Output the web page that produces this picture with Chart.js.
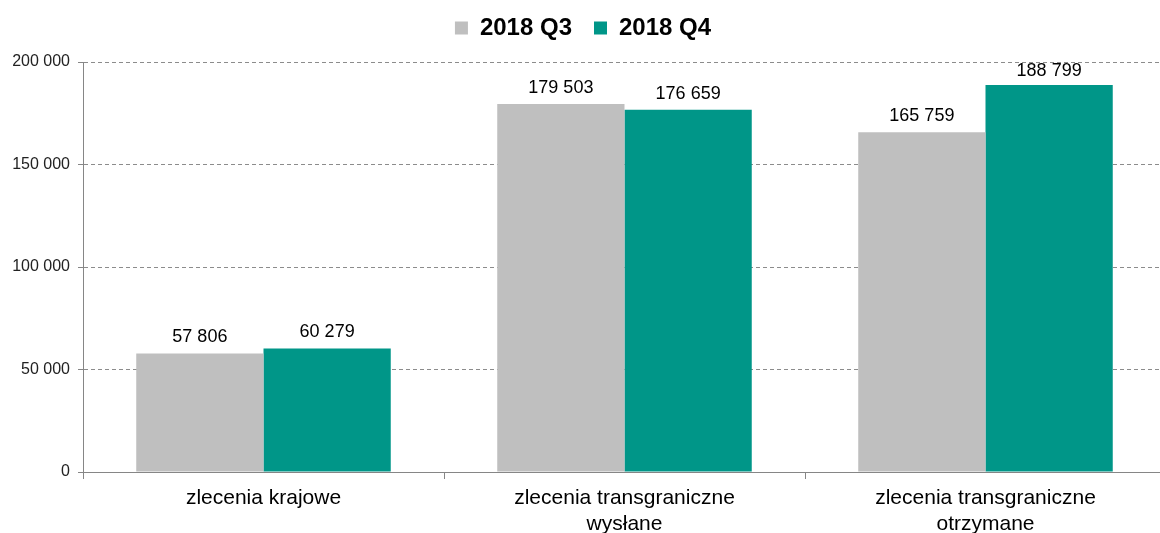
<!DOCTYPE html>
<html>
<head>
<meta charset="utf-8">
<script src="https://cdn.jsdelivr.net/npm/chart.js@4"></script>
<style>
  body { margin: 0; background: #fff; overflow: hidden; }
</style>
</head>
<body>
<canvas id="chart" width="1166" height="533"></canvas>
<script>
// categories and values
const categories = [
  ["zlecenia krajowe"],
  ["zlecenia transgraniczne", "wysłane"],
  ["zlecenia transgraniczne", "otrzymane"]
];
const seriesNames = ["2018 Q3", "2018 Q4"];
const q3Values = [57806, 179503, 165759];
const q4Values = [60279, 176659, 188799];
const yTicks = [0, 50000, 100000, 150000, 200000];

const colors = ["#BFBFBF", "#009688"];
const FONT = "'Liberation Sans', Arial, sans-serif";

function fmt(n) {
  return String(n).replace(/\B(?=(\d{3})+(?!\d))/g, " ");
}

// draw value labels above the bars (kept inside the plot area)
const valueLabels = {
  id: "valueLabels",
  afterDatasetsDraw(chart) {
    const ctx = chart.ctx;
    const top = chart.chartArea.top;
    ctx.save();
    ctx.font = "18px " + FONT;
    ctx.fillStyle = "#000";
    ctx.textAlign = "center";
    ctx.textBaseline = "alphabetic";
    chart.data.datasets.forEach((ds, i) => {
      chart.getDatasetMeta(i).data.forEach((bar, j) => {
        ctx.fillText(fmt(ds.data[j]), bar.x, Math.max(bar.y - 11, top + 14));
      });
    });
    ctx.restore();
  }
};

// fixed legend block height so the plot starts at y=62, legend nudged up a bit
const legendTweak = {
  id: "legendTweak",
  afterInit(chart) {
    const lg = chart.legend;
    const fit = lg.fit.bind(lg);
    lg.fit = function () {
      fit();
      this.height = 62;
    };
    const draw = lg.draw.bind(lg);
    lg.draw = function () {
      const c = this.ctx;
      c.save();
      c.translate(0, -6);
      draw();
      c.restore();
    };
  }
};

const ctx = document.getElementById("chart").getContext("2d");
new Chart(ctx, {
  type: "bar",
  data: {
    labels: categories,
    datasets: [
      {
        label: seriesNames[0],
        data: q3Values,
        backgroundColor: colors[0],
        barPercentage: 1,
        categoryPercentage: 0.705
      },
      {
        label: seriesNames[1],
        data: q4Values,
        backgroundColor: colors[1],
        barPercentage: 1,
        categoryPercentage: 0.705
      }
    ]
  },
  options: {
    responsive: false,
    animation: false,
    plugins: {
      legend: {
        position: "top",
        labels: {
          boxWidth: 13,
          boxHeight: 13,
          padding: 22,
          color: "#000",
          font: { family: FONT, size: 24, weight: "bold" }
        }
      },
      tooltip: { enabled: false }
    },
    scales: {
      x: {
        grid: {
          offset: true,
          drawOnChartArea: false,
          drawTicks: true,
          tickLength: 7,
          color: "#868686"
        },
        border: { color: "#868686", width: 1 },
        ticks: {
          color: "#000",
          padding: 7,
          maxRotation: 0,
          font: { family: FONT, size: 21, lineHeight: 1.2 }
        },
        afterFit(scale) { scale.height = 61; }
      },
      y: {
        min: 0,
        max: 200000,
        afterBuildTicks(scale) {
          scale.ticks = yTicks.map(v => ({ value: v }));
        },
        grid: {
          color: "#8C8C8C",
          tickLength: 5,
          tickColor: "#868686"
        },
        border: { color: "#868686", width: 1, dash: [4, 3] },
        ticks: {
          color: "#222",
          padding: 8,
          font: { family: FONT, size: 16 },
          callback: v => fmt(v)
        },
        afterFit(scale) { scale.width = 83; }
      }
    }
  },
  plugins: [valueLabels, legendTweak]
});
</script>
</body>
</html>
